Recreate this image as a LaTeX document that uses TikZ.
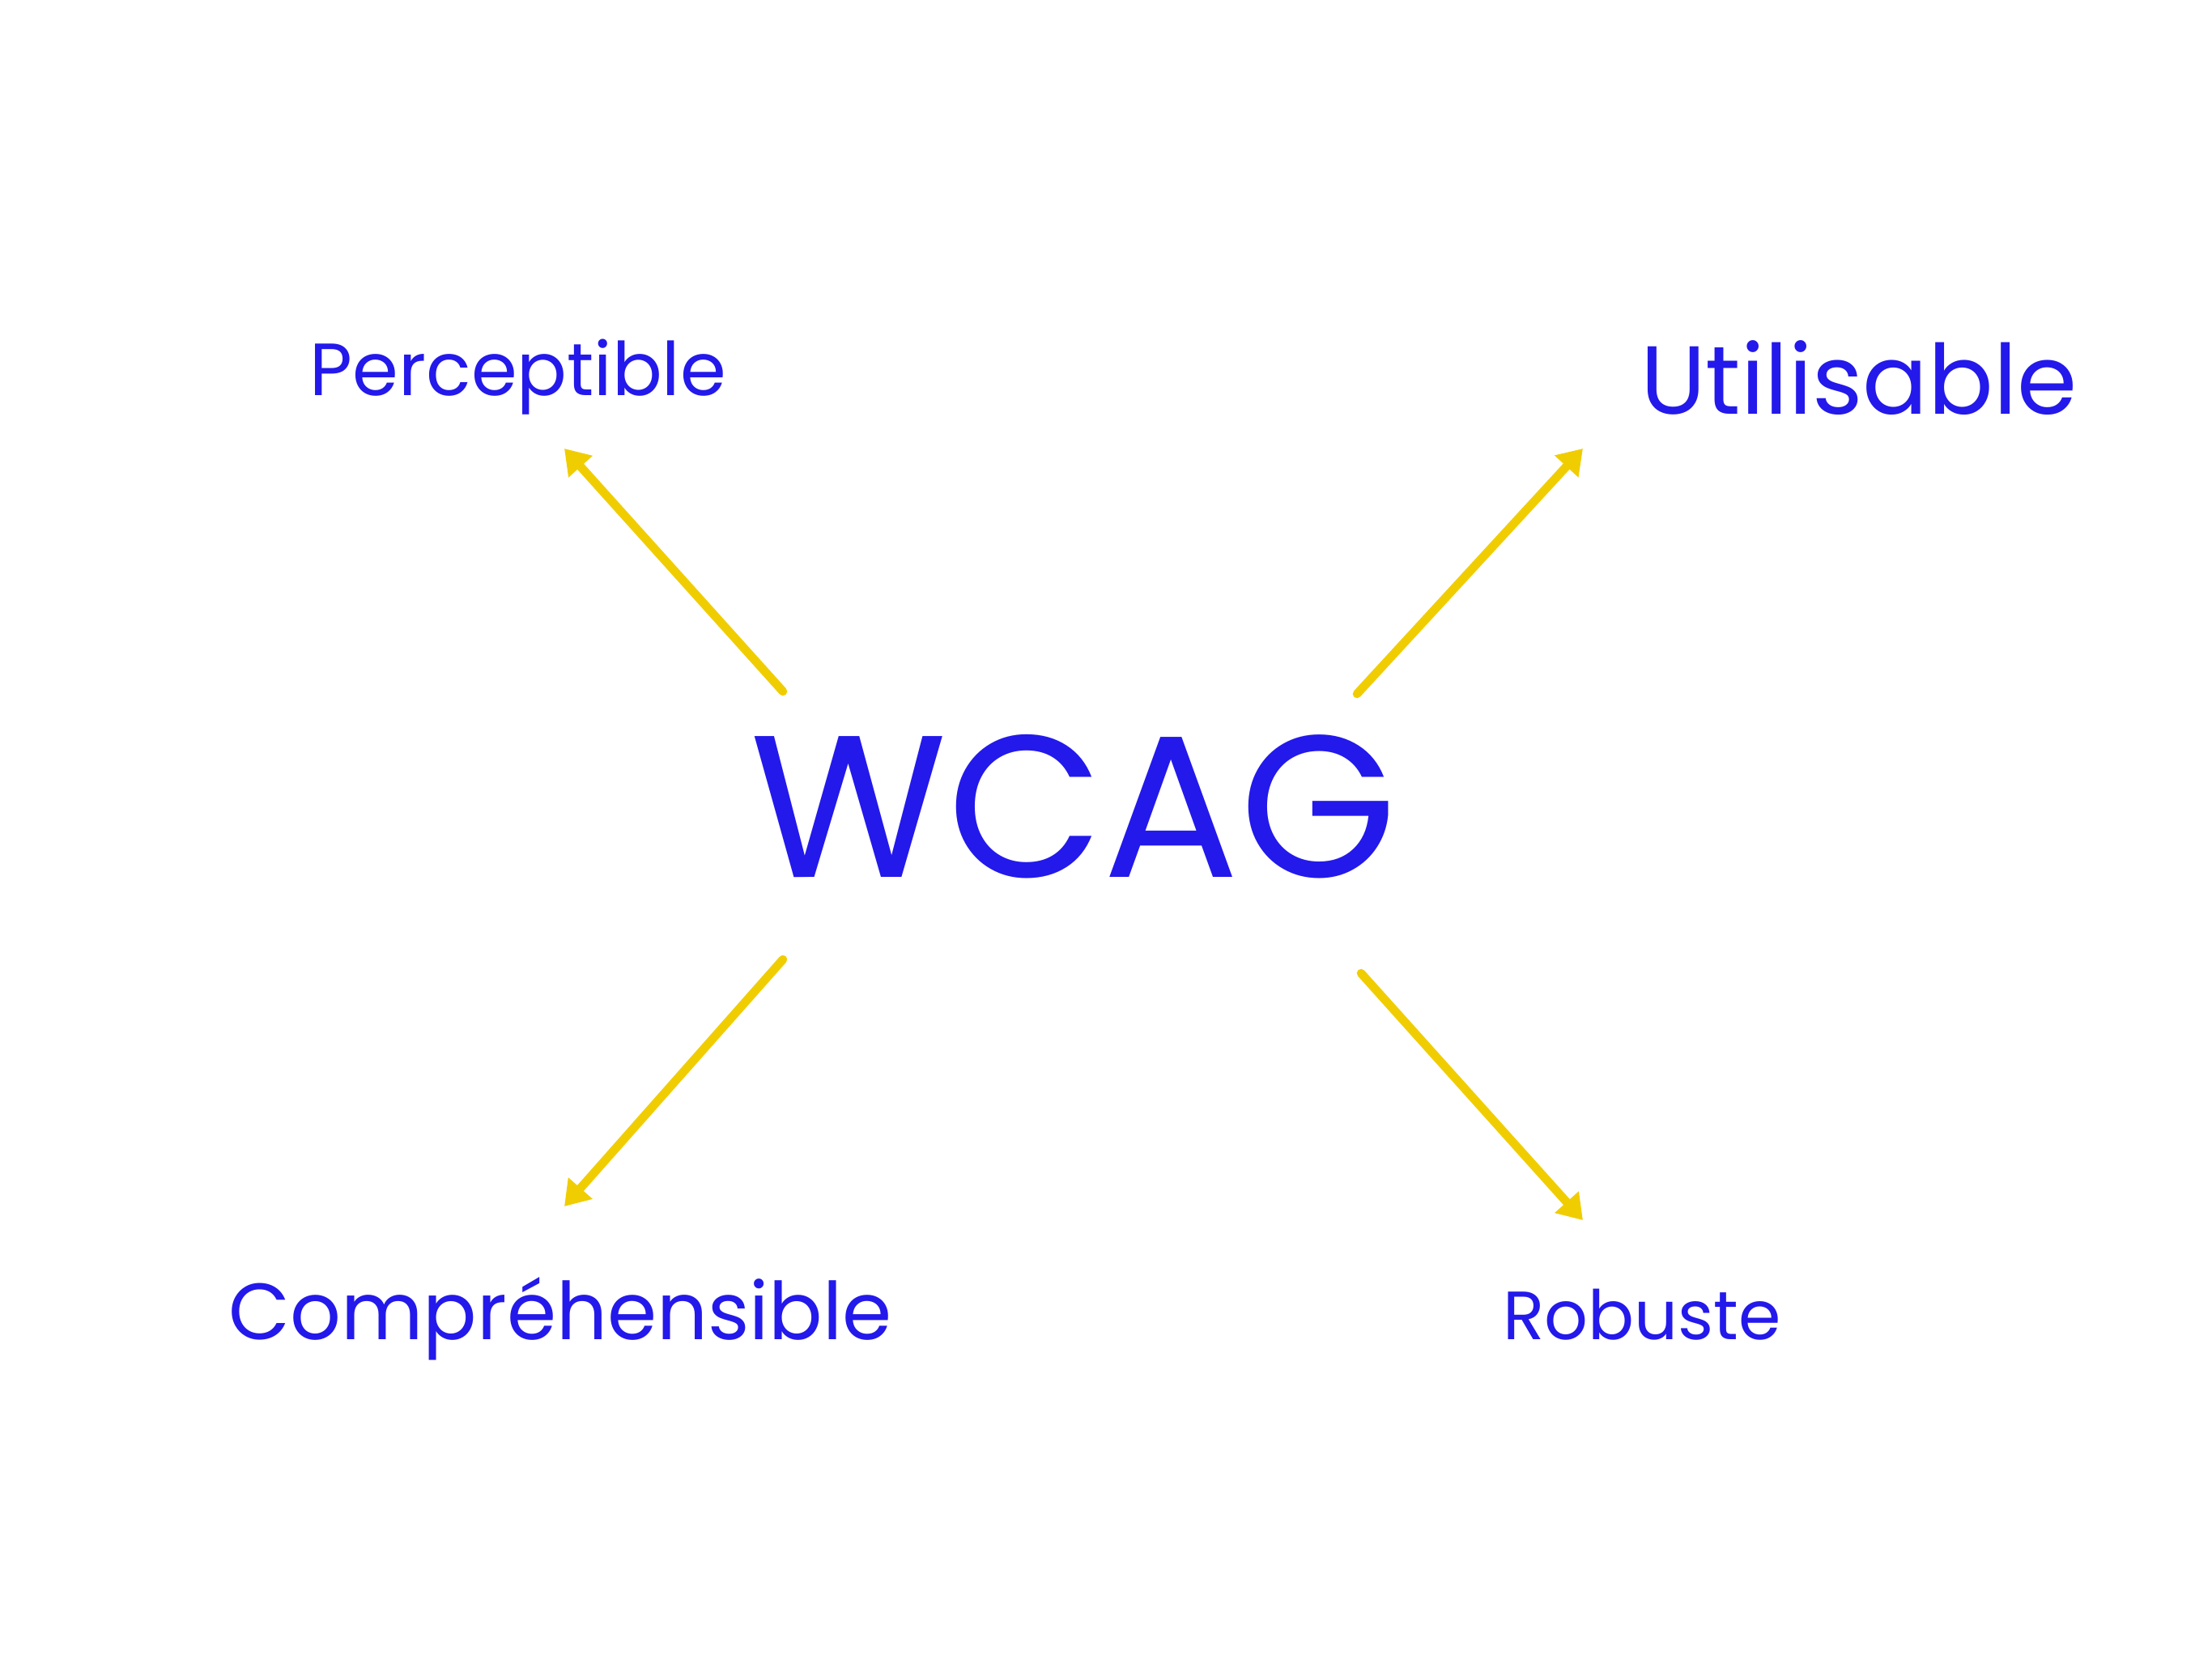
\documentclass[tikz,border=0pt]{standalone}
\usepackage{fontspec}
\setmainfont{Poppins}
\usepackage{tikz}
\usetikzlibrary{arrows.meta,positioning}
\definecolor{penblue}{RGB}{35,25,235}
\definecolor{penyellow}{RGB}{240,205,0}

\begin{document}
\begin{tikzpicture}[
		crit/.style={text=penblue, font=\fontsize{28}{34}\selectfont, inner sep=2pt},
		link/.style={draw=penyellow, line width=3pt, line cap=round, -{Triangle[length=0.3cm, width=0.38cm]}}
	]
				\useasboundingbox (0,0) rectangle (27.32,20.48);
				\node[text=penblue, font=\fontsize{71}{78}\selectfont] (wcag) at (13.26,10.52) {WCAG};
				\node[crit, font=\fontsize{26}{32}\selectfont] (perc) at (6.40,15.82) {Perceptible};
				\node[crit, font=\fontsize{34}{40}\selectfont] (util) at (22.96,15.81) {Utilisable};
				\node[crit] (comp) at (6.92,4.19) {Compréhensible};
				\node[crit, font=\fontsize{24}{30}\selectfont] (robu) at (20.28,4.24) {Robuste};
				% ends of the arrows
				\coordinate (wcag-nw) at (9.67,11.94);
				\coordinate (wcag-ne) at (16.76,11.91);
				\coordinate (wcag-sw) at (9.67,8.63);
				\coordinate (wcag-se) at (16.81,8.46);
				\coordinate (perc-in) at (6.97,14.94);
				\coordinate (util-in) at (19.55,14.94);
				\coordinate (comp-in) at (6.97,5.58);
				\coordinate (robu-in) at (19.55,5.41);
				\draw[link] (wcag-nw) -- (perc-in);
				\draw[link] (wcag-ne) -- (util-in);
				\draw[link] (wcag-sw) -- (comp-in);
				\draw[link] (wcag-se) -- (robu-in);
			\end{tikzpicture}
\end{document}
